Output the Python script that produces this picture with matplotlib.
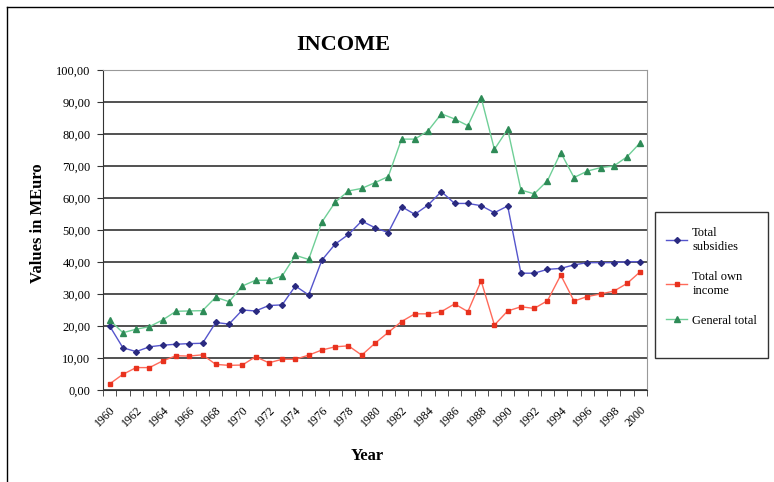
import matplotlib.pyplot as plt
from matplotlib.lines import Line2D
from matplotlib.patches import Rectangle
from matplotlib.ticker import FuncFormatter, MultipleLocator

years = list(range(1960, 2001))

# values (MEuro)
subsidies = [20.0, 13.2, 12.0, 13.5, 14.0, 14.3, 14.5, 14.6, 21.1, 20.6,
             25.0, 24.7, 26.4, 26.6, 32.5, 29.7, 40.6, 45.6, 48.6, 52.8,
             50.7, 49.2, 57.3, 54.9, 57.8, 62.0, 58.3, 58.3, 57.6, 55.4,
             57.5, 36.5, 36.5, 37.7, 38.0, 39.1, 39.8, 39.8, 39.8, 40.1,
             40.1]
own_income = [1.9, 4.9, 7.0, 7.0, 9.1, 10.7, 10.6, 11.0, 8.0, 7.7,
              7.8, 10.4, 8.5, 9.6, 9.6, 10.9, 12.5, 13.5, 13.8, 10.9,
              14.6, 18.0, 21.4, 23.8, 23.8, 24.5, 26.9, 24.5, 34.1, 20.3,
              24.7, 26.0, 25.5, 27.9, 35.9, 27.8, 29.2, 30.0, 30.9, 33.3,
              37.0]
general_total = [21.9, 17.9, 19.0, 19.8, 21.9, 24.6, 24.7, 24.8, 29.0, 27.6,
                 32.5, 34.3, 34.3, 35.6, 42.1, 40.8, 52.5, 58.7, 62.2, 63.0,
                 64.8, 66.7, 78.4, 78.4, 81.0, 86.3, 84.7, 82.6, 91.4, 75.2,
                 81.5, 62.5, 61.3, 65.4, 74.2, 66.4, 68.4, 69.5, 70.0, 72.9,
                 77.3]

labels = ["Total\nsubsidies", "Total own\nincome", "General total"]

serif = "Liberation Serif"
W, H = 774, 482

fig = plt.figure(figsize=(W / 100, H / 100), dpi=100)
ax = fig.add_axes([103 / W, 1 - 390 / H, 544 / W, 320 / H])

ax.plot(years, subsidies, color="#5555cc", lw=1, marker="D", ms=3,
        mfc="#2a2a80", mec="#2a2a80", label=labels[0])
ax.plot(years, own_income, color="#ff6a5a", lw=1, marker="s", ms=3.5,
        mfc="#e8321e", mec="#e8321e", label=labels[1])
ax.plot(years, general_total, color="#6fcf97", lw=1, marker="^", ms=4,
        mfc="#2e8b57", mec="#2e8b57", label=labels[2])

ax.set_xlim(1959.5, 2000.5)
ax.set_ylim(0, 100)
ax.yaxis.set_major_locator(MultipleLocator(10))
ax.yaxis.set_major_formatter(FuncFormatter(lambda v, p: f"{v:.2f}".replace(".", ",")))
ax.grid(axis="y", color="#333333", lw=1.2)
ax.set_axisbelow(True)

ax.set_xticks(years[::2])
ax.set_xticklabels([str(y) for y in years[::2]], rotation=45, ha="right",
                   rotation_mode="anchor", fontsize=8.5, family=serif)
ax.set_xticks([y + 0.5 for y in range(1959, 2001)], minor=True)
ax.tick_params(axis="x", which="major", length=0, pad=10)
ax.tick_params(axis="x", which="minor", length=4, color="#333333")
ax.tick_params(axis="y", length=4, color="#333333", labelsize=9, pad=5)
for t in ax.get_yticklabels():
    t.set_family(serif)

for side in ["top", "right"]:
    ax.spines[side].set_color("#999999")
ax.spines["left"].set_color("#333333")
ax.spines["bottom"].set_color("#333333")

ax.set_xlabel("Year", family=serif, fontweight="bold", fontsize=12)
ax.xaxis.set_label_coords(0.485, -0.18)
ax.set_ylabel("Values in MEuro", family=serif, fontweight="bold", fontsize=12)
ax.yaxis.set_label_coords(-0.105, 0.52)
fig.text(343 / W, 1 - 45 / H, "INCOME", family=serif, fontweight="bold",
         fontsize=16, ha="center", va="center")

# legend box drawn separately so it can be as tall as the reference one
fig.add_artist(Rectangle((655 / W, 1 - 358 / H), 113 / W, 146 / H,
                         transform=fig.transFigure, fill=False,
                         edgecolor="#333333", lw=1))
fig.legend(loc="upper left", bbox_to_anchor=(656 / W, 1 - 217 / H),
           prop={"family": serif, "size": 9}, frameon=False,
           handlelength=1.7, labelspacing=1.45, borderpad=0.3,
           handletextpad=0.4)

# outer chart frame, clipped at right and bottom like the reference
fig.add_artist(Line2D([7 / W, 1], [1 - 7 / H, 1 - 7 / H], color="black", lw=1))
fig.add_artist(Line2D([7 / W, 7 / W], [0, 1 - 7 / H], color="black", lw=1))

fig.savefig("out.png", dpi=100)
